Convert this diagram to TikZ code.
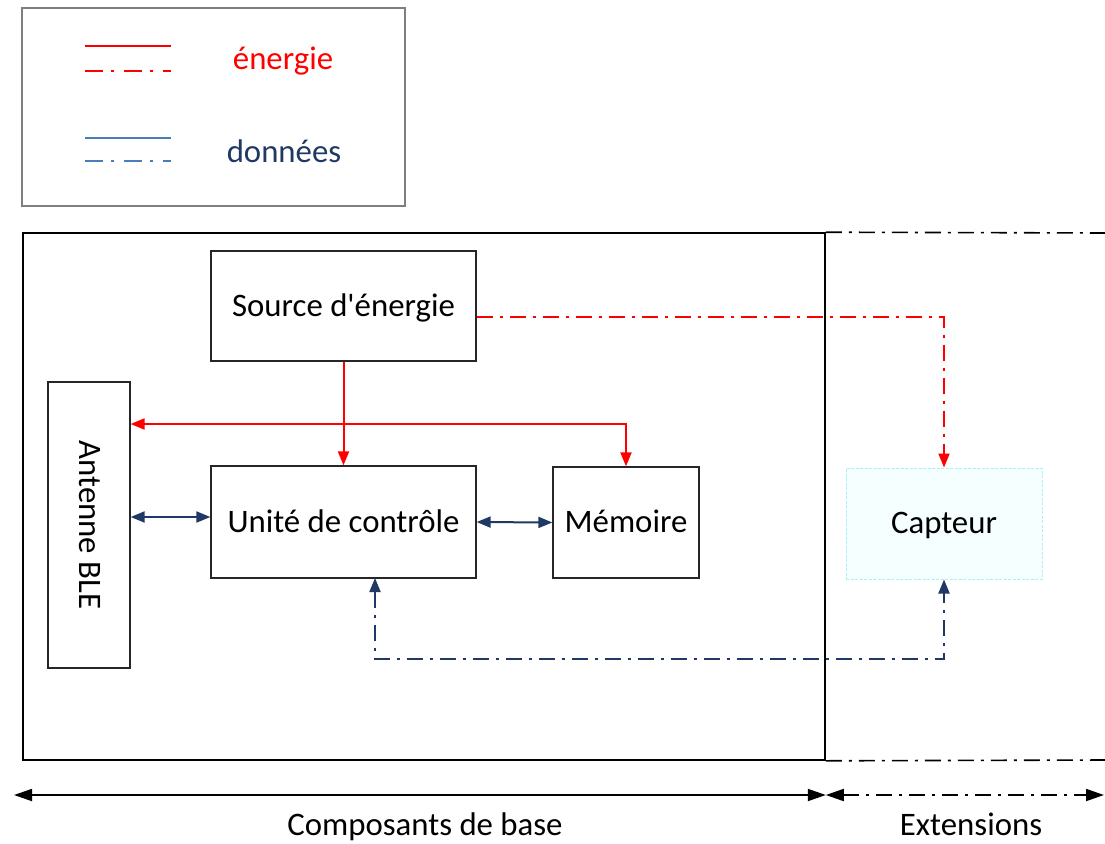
\documentclass[tikz,border=0pt]{standalone}
\usepackage{fontspec}
\setmainfont{Carlito}
\usetikzlibrary{arrows.meta}
\definecolor{pwr}{HTML}{FF0000}
\definecolor{datline}{HTML}{203864}
\definecolor{legblue}{HTML}{4A7EBB}
\definecolor{legtext}{HTML}{1F3864}
\definecolor{legframe}{HTML}{7F7F7F}
\definecolor{capfill}{HTML}{F5FFFF}
\definecolor{capdraw}{HTML}{A8F2F2}
\tikzset{
  tip/.tip={Triangle[length=14pt, width=11pt]},
  dimtip/.tip={Triangle[length=18pt, width=12pt]}
}
\begin{document}
\begin{tikzpicture}[x=1pt,y=-1pt,
  font=\fontsize{32.8}{40}\selectfont,
  txt/.style={text height=24pt, text depth=4pt},
  block/.style={draw=black!85, line width=1.3pt, fill=white, inner sep=0pt, txt},
  frame/.style={draw=black, line width=1.6pt, inner sep=0pt},
  dashdot/.style={dash pattern=on 16pt off 7pt on 3pt off 7pt},
  legdash/.style={dash pattern=on 18pt off 8pt on 3pt off 10pt},
  energy/.style={draw=pwr, line width=2pt},
  data/.style={draw=datline, line width=2pt},
  dimline/.style={draw=black, line width=1.8pt},
  label/.style={inner sep=0pt, txt}
]
\useasboundingbox (0,0) rectangle (1105,843);

% legend
\node[draw=legframe, line width=2pt, minimum width=383pt, minimum height=198pt, inner sep=0pt] (leg) at (213.5,107) {};
\coordinate (e1a) at (85,46);  \coordinate (e1b) at (171,46);
\coordinate (e2a) at (85,71);  \coordinate (e2b) at (171,71);
\coordinate (d1a) at (85,138); \coordinate (d1b) at (171,138);
\coordinate (d2a) at (85,161); \coordinate (d2b) at (171,161);
\draw[energy, line width=2.6pt] (e1a) -- (e1b);
\draw[energy, line width=2.6pt, legdash] (e2a) -- (e2b);
\draw[draw=legblue, line width=2.6pt] (d1a) -- (d1b);
\draw[draw=legblue, line width=2.6pt, legdash] (d2a) -- (d2b);
\node[label, text=pwr] (legE) at (283,60) {énergie};
\node[label, text=legtext] (legD) at (284,152) {données};

% base components frame and extension zone
\node[frame, minimum width=802pt, minimum height=527pt] (base) at (424,496.5) {};
\coordinate (extTop) at (1105,233);
\coordinate (extBot) at (1105,760);
\draw[line width=1.6pt, dashdot] (base.north east) -- (extTop);
\draw[line width=1.6pt, dashdot] (base.south east) -- (extBot);

% blocks
\node[block, minimum width=265pt, minimum height=110pt] (src) at (343.5,306) {Source d\textquotesingle énergie};
\node[block, minimum width=82pt, minimum height=286pt] (ant) at (89,525) {};
\node[label, rotate=-90] (antT) at (ant.center) {Antenne BLE};
\node[block, minimum width=265pt, minimum height=112pt] (uc) at (343.5,522) {Unité de contrôle};
\node[block, minimum width=146pt, minimum height=111pt] (mem) at (626,522.5) {Mémoire};
\node[draw=capdraw, fill=capfill, line width=1pt, dash pattern=on 3pt off 1.5pt, inner sep=0pt, txt,
      minimum width=196pt, minimum height=111pt] (cap) at (944,523.5) {Capteur};

% energy links
\coordinate (busL) at (ant.east |- 0,424);
\coordinate (busR) at (mem.north |- 0,424);
\draw[energy, -{tip}] (src.south) -- (uc.north);
\draw[energy, {tip}-{tip}] (busL) -- (busR) -- (mem.north);
\coordinate (srcE) at (src.east |- 0,317);
\coordinate (eCorner) at (cap.north |- srcE);
\draw[energy, dashdot, -{tip}] (srcE) -- (eCorner) -- (cap.north);

% data links
\coordinate (antD) at (ant.east |- 0,517);
\coordinate (ucD) at (uc.west |- 0,517);
\draw[data, {tip}-{tip}] (antD) -- (ucD);
\draw[data, {tip}-{tip}] (uc.east) -- (mem.west);
\coordinate (ucS) at (375,578);
\coordinate (dL) at (375,659);
\coordinate (dR) at (cap.south |- dL);
\draw[data, dashdot, {tip}-{tip}] (ucS) -- (dL) -- (dR) -- (cap.south);

% extent arrows
\coordinate (dimL) at (14,795);
\coordinate (dimM) at (base.south east |- 0,795);
\coordinate (dimR) at (1104,795);
\draw[dimline, {dimtip}-{dimtip}] (dimL) -- (dimM);
\draw[dimline, dashdot, {dimtip}-{dimtip}] (dimM) -- (dimR);
\node[label] (lbBase) at (425,825) {Composants de base};
\node[label] (lbExt) at (971,825) {Extensions};
\end{tikzpicture}
\end{document}
